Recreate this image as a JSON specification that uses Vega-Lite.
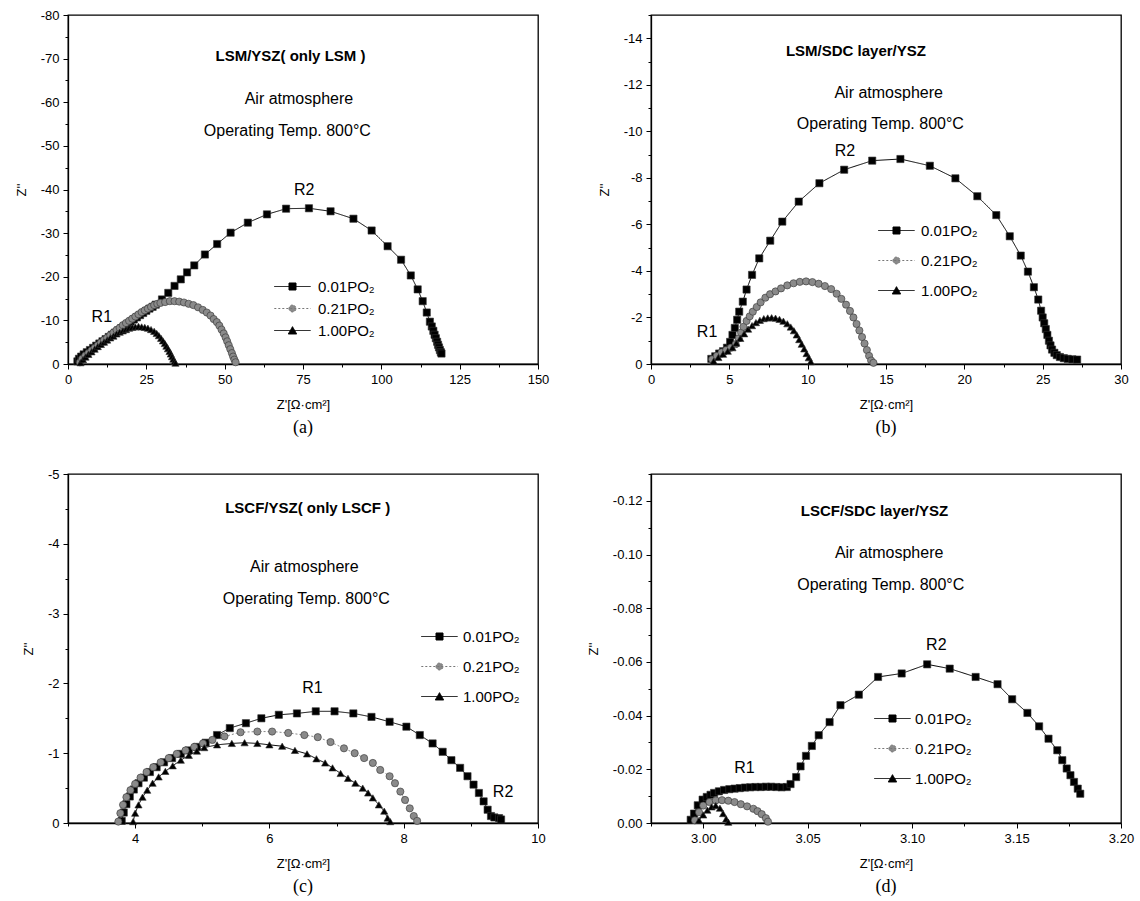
{
"$schema": "https://vega.github.io/schema/vega-lite/v6.json",
"background": "white",
"padding": {"left": 14, "top": 8, "right": 5, "bottom": 0},
"columns": 2,
"spacing": {"row": 110, "column": 113},
"bounds": "flush",
"config": {
 "font": "Liberation Sans",
 "locale": {"number": {"decimal": ".", "thousands": ",", "grouping": [3], "currency": ["$", ""], "minus": "-"}},
 "view": {"stroke": "black", "strokeWidth": 1.3},
 "axis": {"domainColor": "black", "domainWidth": 1.3, "tickColor": "black", "tickWidth": 1, "labelColor": "black", "titleColor": "black", "labelFont": "Liberation Sans", "titleFont": "Liberation Sans", "labelFontSize": 13, "titleFontSize": 13, "titleFontWeight": "normal", "grid": false, "labelFlush": false, "labelOverlap": false, "labelPadding": 4, "titlePadding": 12},
 "legend": {"labelFont": "Liberation Sans", "labelFontSize": 15, "labelColor": "black", "padding": 0, "symbolSize": 196, "symbolStrokeWidth": 1, "symbolOpacity": 1},
 "title": {"font": "Liberation Serif", "fontSize": 18, "fontWeight": "normal", "color": "black"},
 "text": {"font": "Liberation Sans", "color": "black"}
},
"datasets": {
 "a": [
  {"s":"0.01","x":3.0,"y":-0.6},{"s":"0.01","x":3.5,"y":-1.2},{"s":"0.01","x":4.2,"y":-1.7},{"s":"0.01","x":5,"y":-2.2},{"s":"0.01","x":6,"y":-2.7},{"s":"0.01","x":7,"y":-3.2},{"s":"0.01","x":8,"y":-3.7},{"s":"0.01","x":9,"y":-4.2},{"s":"0.01","x":10,"y":-4.7},{"s":"0.01","x":11,"y":-5.2},{"s":"0.01","x":12,"y":-5.7},{"s":"0.01","x":13,"y":-6.2},{"s":"0.01","x":14,"y":-6.7},{"s":"0.01","x":15,"y":-7.2},{"s":"0.01","x":16,"y":-7.7},{"s":"0.01","x":17,"y":-8.2},{"s":"0.01","x":18,"y":-8.7},{"s":"0.01","x":19,"y":-9.2},{"s":"0.01","x":20,"y":-9.7},{"s":"0.01","x":21,"y":-10.2},{"s":"0.01","x":22,"y":-10.7},{"s":"0.01","x":23,"y":-11.2},{"s":"0.01","x":24,"y":-11.7},{"s":"0.01","x":25,"y":-12.2},{"s":"0.01","x":26,"y":-12.7},{"s":"0.01","x":27,"y":-13.1},{"s":"0.01","x":28,"y":-13.6},{"s":"0.01","x":30,"y":-14.8},{"s":"0.01","x":32,"y":-16.3},{"s":"0.01","x":34,"y":-17.9},{"s":"0.01","x":36,"y":-19.4},{"s":"0.01","x":38,"y":-21},{"s":"0.01","x":40.3,"y":-22.6},{"s":"0.01","x":43.7,"y":-25.1},{"s":"0.01","x":47.6,"y":-27.5},{"s":"0.01","x":51.9,"y":-30.1},{"s":"0.01","x":57.4,"y":-32.4},{"s":"0.01","x":63.5,"y":-34.3},{"s":"0.01","x":69.6,"y":-35.6},{"s":"0.01","x":76.9,"y":-35.7},{"s":"0.01","x":83.8,"y":-35},{"s":"0.01","x":91.1,"y":-33.3},{"s":"0.01","x":96.9,"y":-30.6},{"s":"0.01","x":102,"y":-27},{"s":"0.01","x":106.3,"y":-23.9},{"s":"0.01","x":109.4,"y":-20.3},{"s":"0.01","x":111.6,"y":-17.1},{"s":"0.01","x":113.2,"y":-14.4},{"s":"0.01","x":114.5,"y":-11.8},{"s":"0.01","x":115.5,"y":-9.7},{"s":"0.01","x":116.1,"y":-8.6},{"s":"0.01","x":116.6,"y":-7.6},{"s":"0.01","x":117,"y":-6.7},{"s":"0.01","x":117.4,"y":-5.9},{"s":"0.01","x":117.8,"y":-5.1},{"s":"0.01","x":118.1,"y":-4.4},{"s":"0.01","x":118.4,"y":-3.8},{"s":"0.01","x":118.7,"y":-3.2},{"s":"0.01","x":119,"y":-2.7},{"s":"0.01","x":119.2,"y":-2.4},
  {"s":"0.21","x":3.8,"y":-0.4},{"s":"0.21","x":4.5,"y":-1.2},{"s":"0.21","x":5.5,"y":-1.9},{"s":"0.21","x":6.5,"y":-2.5},{"s":"0.21","x":7.5,"y":-3.1},{"s":"0.21","x":8.5,"y":-3.7},{"s":"0.21","x":9.5,"y":-4.3},{"s":"0.21","x":10.5,"y":-4.9},{"s":"0.21","x":11.5,"y":-5.5},{"s":"0.21","x":12.5,"y":-6.0},{"s":"0.21","x":13.5,"y":-6.6},{"s":"0.21","x":14.5,"y":-7.2},{"s":"0.21","x":15.5,"y":-7.8},{"s":"0.21","x":16.5,"y":-8.3},{"s":"0.21","x":17.5,"y":-8.9},{"s":"0.21","x":18.5,"y":-9.4},{"s":"0.21","x":19.5,"y":-9.9},{"s":"0.21","x":20.5,"y":-10.4},{"s":"0.21","x":21.5,"y":-10.9},{"s":"0.21","x":22.5,"y":-11.4},{"s":"0.21","x":23.5,"y":-11.9},{"s":"0.21","x":24.5,"y":-12.3},{"s":"0.21","x":25.5,"y":-12.7},{"s":"0.21","x":26.5,"y":-13.1},{"s":"0.21","x":27.5,"y":-13.5},{"s":"0.21","x":28.5,"y":-13.8},{"s":"0.21","x":29.5,"y":-14.0},{"s":"0.21","x":31,"y":-14.2},{"s":"0.21","x":32.5,"y":-14.4},{"s":"0.21","x":34,"y":-14.4},{"s":"0.21","x":35.5,"y":-14.3},{"s":"0.21","x":37,"y":-14.1},{"s":"0.21","x":38.5,"y":-13.8},{"s":"0.21","x":40,"y":-13.5},{"s":"0.21","x":41.5,"y":-13.0},{"s":"0.21","x":43,"y":-12.4},{"s":"0.21","x":44.3,"y":-11.8},{"s":"0.21","x":45.5,"y":-11.1},{"s":"0.21","x":46.5,"y":-10.3},{"s":"0.21","x":47.5,"y":-9.6},{"s":"0.21","x":48.3,"y":-8.8},{"s":"0.21","x":49,"y":-7.9},{"s":"0.21","x":49.7,"y":-7.0},{"s":"0.21","x":50.3,"y":-6.1},{"s":"0.21","x":50.8,"y":-5.2},{"s":"0.21","x":51.3,"y":-4.3},{"s":"0.21","x":51.8,"y":-3.4},{"s":"0.21","x":52.3,"y":-2.5},{"s":"0.21","x":52.7,"y":-1.7},{"s":"0.21","x":53.1,"y":-1.0},{"s":"0.21","x":53.5,"y":-0.4},
  {"s":"1.00","x":4,"y":-0.3},{"s":"1.00","x":4.8,"y":-1.0},{"s":"1.00","x":5.6,"y":-1.6},{"s":"1.00","x":6.5,"y":-2.2},{"s":"1.00","x":7.5,"y":-2.8},{"s":"1.00","x":8.5,"y":-3.4},{"s":"1.00","x":9.5,"y":-4.0},{"s":"1.00","x":10.5,"y":-4.5},{"s":"1.00","x":11.5,"y":-5.0},{"s":"1.00","x":12.5,"y":-5.5},{"s":"1.00","x":13.5,"y":-6.0},{"s":"1.00","x":14.5,"y":-6.4},{"s":"1.00","x":15.5,"y":-6.9},{"s":"1.00","x":16.5,"y":-7.3},{"s":"1.00","x":17.5,"y":-7.6},{"s":"1.00","x":18.5,"y":-7.9},{"s":"1.00","x":19.5,"y":-8.2},{"s":"1.00","x":20.5,"y":-8.4},{"s":"1.00","x":21.5,"y":-8.5},{"s":"1.00","x":22.5,"y":-8.6},{"s":"1.00","x":23.5,"y":-8.5},{"s":"1.00","x":24.5,"y":-8.4},{"s":"1.00","x":25.5,"y":-8.2},{"s":"1.00","x":26.5,"y":-7.9},{"s":"1.00","x":27.5,"y":-7.5},{"s":"1.00","x":28.3,"y":-7.0},{"s":"1.00","x":29,"y":-6.5},{"s":"1.00","x":29.7,"y":-5.9},{"s":"1.00","x":30.3,"y":-5.3},{"s":"1.00","x":30.9,"y":-4.7},{"s":"1.00","x":31.4,"y":-4.1},{"s":"1.00","x":31.9,"y":-3.5},{"s":"1.00","x":32.4,"y":-2.9},{"s":"1.00","x":32.8,"y":-2.3},{"s":"1.00","x":33.2,"y":-1.7},{"s":"1.00","x":33.6,"y":-1.1},{"s":"1.00","x":34,"y":-0.6},{"s":"1.00","x":34.3,"y":-0.2}
 ],
 "b": [
  {"s":"0.01","x":3.85,"y":-0.22},{"s":"0.01","x":4.1,"y":-0.33},{"s":"0.01","x":4.35,"y":-0.45},{"s":"0.01","x":4.6,"y":-0.55},{"s":"0.01","x":4.85,"y":-0.7},{"s":"0.01","x":5.05,"y":-0.95},{"s":"0.01","x":5.2,"y":-1.25},{"s":"0.01","x":5.35,"y":-1.55},{"s":"0.01","x":5.5,"y":-1.9},{"s":"0.01","x":5.63,"y":-2.25},{"s":"0.01","x":5.86,"y":-2.68},{"s":"0.01","x":6.1,"y":-3.2},{"s":"0.01","x":6.45,"y":-3.83},{"s":"0.01","x":6.91,"y":-4.54},{"s":"0.01","x":7.61,"y":-5.3},{"s":"0.01","x":8.38,"y":-6.12},{"s":"0.01","x":9.43,"y":-6.98},{"s":"0.01","x":10.75,"y":-7.77},{"s":"0.01","x":12.33,"y":-8.35},{"s":"0.01","x":14.12,"y":-8.74},{"s":"0.01","x":15.92,"y":-8.81},{"s":"0.01","x":17.8,"y":-8.52},{"s":"0.01","x":19.43,"y":-7.98},{"s":"0.01","x":20.83,"y":-7.21},{"s":"0.01","x":22.04,"y":-6.4},{"s":"0.01","x":22.9,"y":-5.49},{"s":"0.01","x":23.6,"y":-4.66},{"s":"0.01","x":24.06,"y":-3.97},{"s":"0.01","x":24.44,"y":-3.3},{"s":"0.01","x":24.72,"y":-2.77},{"s":"0.01","x":24.9,"y":-2.29},{"s":"0.01","x":25.0,"y":-2.0},{"s":"0.01","x":25.1,"y":-1.75},{"s":"0.01","x":25.2,"y":-1.5},{"s":"0.01","x":25.3,"y":-1.25},{"s":"0.01","x":25.4,"y":-1.0},{"s":"0.01","x":25.5,"y":-0.8},{"s":"0.01","x":25.6,"y":-0.62},{"s":"0.01","x":25.75,"y":-0.48},{"s":"0.01","x":25.9,"y":-0.38},{"s":"0.01","x":26.1,"y":-0.3},{"s":"0.01","x":26.35,"y":-0.25},{"s":"0.01","x":26.6,"y":-0.22},{"s":"0.01","x":26.9,"y":-0.2},{"s":"0.01","x":27.2,"y":-0.19},
  {"s":"0.21","x":3.9,"y":-0.2},{"s":"0.21","x":4.2,"y":-0.35},{"s":"0.21","x":4.5,"y":-0.5},{"s":"0.21","x":4.8,"y":-0.6},{"s":"0.21","x":5.1,"y":-0.7},{"s":"0.21","x":5.4,"y":-0.85},{"s":"0.21","x":5.6,"y":-1.1},{"s":"0.21","x":5.75,"y":-1.35},{"s":"0.21","x":5.9,"y":-1.6},{"s":"0.21","x":6.1,"y":-1.85},{"s":"0.21","x":6.3,"y":-2.05},{"s":"0.21","x":6.5,"y":-2.25},{"s":"0.21","x":6.75,"y":-2.45},{"s":"0.21","x":7.0,"y":-2.65},{"s":"0.21","x":7.3,"y":-2.85},{"s":"0.21","x":7.6,"y":-3.0},{"s":"0.21","x":7.95,"y":-3.12},{"s":"0.21","x":8.3,"y":-3.25},{"s":"0.21","x":8.7,"y":-3.38},{"s":"0.21","x":9.1,"y":-3.47},{"s":"0.21","x":9.5,"y":-3.53},{"s":"0.21","x":9.9,"y":-3.55},{"s":"0.21","x":10.3,"y":-3.52},{"s":"0.21","x":10.7,"y":-3.45},{"s":"0.21","x":11.1,"y":-3.35},{"s":"0.21","x":11.5,"y":-3.22},{"s":"0.21","x":11.85,"y":-3.02},{"s":"0.21","x":12.15,"y":-2.8},{"s":"0.21","x":12.45,"y":-2.55},{"s":"0.21","x":12.7,"y":-2.28},{"s":"0.21","x":12.92,"y":-2.0},{"s":"0.21","x":13.12,"y":-1.72},{"s":"0.21","x":13.3,"y":-1.44},{"s":"0.21","x":13.47,"y":-1.16},{"s":"0.21","x":13.63,"y":-0.88},{"s":"0.21","x":13.78,"y":-0.6},{"s":"0.21","x":13.92,"y":-0.35},{"s":"0.21","x":14.05,"y":-0.15},{"s":"0.21","x":14.2,"y":-0.05},
  {"s":"1.00","x":4.0,"y":-0.12},{"s":"1.00","x":4.3,"y":-0.28},{"s":"1.00","x":4.6,"y":-0.42},{"s":"1.00","x":4.9,"y":-0.55},{"s":"1.00","x":5.2,"y":-0.7},{"s":"1.00","x":5.45,"y":-0.9},{"s":"1.00","x":5.7,"y":-1.1},{"s":"1.00","x":5.95,"y":-1.3},{"s":"1.00","x":6.2,"y":-1.5},{"s":"1.00","x":6.45,"y":-1.65},{"s":"1.00","x":6.7,"y":-1.78},{"s":"1.00","x":6.95,"y":-1.88},{"s":"1.00","x":7.2,"y":-1.95},{"s":"1.00","x":7.45,"y":-1.98},{"s":"1.00","x":7.7,"y":-1.99},{"s":"1.00","x":7.95,"y":-1.97},{"s":"1.00","x":8.2,"y":-1.92},{"s":"1.00","x":8.45,"y":-1.84},{"s":"1.00","x":8.7,"y":-1.73},{"s":"1.00","x":8.92,"y":-1.59},{"s":"1.00","x":9.12,"y":-1.43},{"s":"1.00","x":9.3,"y":-1.25},{"s":"1.00","x":9.46,"y":-1.05},{"s":"1.00","x":9.62,"y":-0.85},{"s":"1.00","x":9.78,"y":-0.65},{"s":"1.00","x":9.93,"y":-0.45},{"s":"1.00","x":10.07,"y":-0.27},{"s":"1.00","x":10.2,"y":-0.1}
 ],
 "c": [
  {"s":"0.01","x":3.8,"y":-0.03},{"s":"0.01","x":3.83,"y":-0.15},{"s":"0.01","x":3.87,"y":-0.27},{"s":"0.01","x":3.92,"y":-0.38},{"s":"0.01","x":3.98,"y":-0.48},{"s":"0.01","x":4.05,"y":-0.57},{"s":"0.01","x":4.13,"y":-0.65},{"s":"0.01","x":4.22,"y":-0.73},{"s":"0.01","x":4.32,"y":-0.8},{"s":"0.01","x":4.43,"y":-0.87},{"s":"0.01","x":4.55,"y":-0.93},{"s":"0.01","x":4.68,"y":-0.99},{"s":"0.01","x":4.8,"y":-1.04},{"s":"0.01","x":4.92,"y":-1.09},{"s":"0.01","x":5.05,"y":-1.15},{"s":"0.01","x":5.22,"y":-1.26},{"s":"0.01","x":5.41,"y":-1.36},{"s":"0.01","x":5.65,"y":-1.43},{"s":"0.01","x":5.88,"y":-1.5},{"s":"0.01","x":6.14,"y":-1.55},{"s":"0.01","x":6.41,"y":-1.57},{"s":"0.01","x":6.69,"y":-1.6},{"s":"0.01","x":6.97,"y":-1.6},{"s":"0.01","x":7.25,"y":-1.57},{"s":"0.01","x":7.52,"y":-1.52},{"s":"0.01","x":7.79,"y":-1.45},{"s":"0.01","x":8.04,"y":-1.38},{"s":"0.01","x":8.24,"y":-1.26},{"s":"0.01","x":8.43,"y":-1.14},{"s":"0.01","x":8.58,"y":-1.02},{"s":"0.01","x":8.71,"y":-0.9},{"s":"0.01","x":8.84,"y":-0.79},{"s":"0.01","x":8.95,"y":-0.67},{"s":"0.01","x":9.04,"y":-0.55},{"s":"0.01","x":9.12,"y":-0.43},{"s":"0.01","x":9.19,"y":-0.31},{"s":"0.01","x":9.25,"y":-0.19},{"s":"0.01","x":9.3,"y":-0.1},{"s":"0.01","x":9.35,"y":-0.08},{"s":"0.01","x":9.42,"y":-0.07},{"s":"0.01","x":9.45,"y":-0.05},
  {"s":"0.21","x":3.75,"y":-0.02},{"s":"0.21","x":3.78,"y":-0.14},{"s":"0.21","x":3.82,"y":-0.26},{"s":"0.21","x":3.87,"y":-0.37},{"s":"0.21","x":3.93,"y":-0.47},{"s":"0.21","x":4.0,"y":-0.56},{"s":"0.21","x":4.08,"y":-0.65},{"s":"0.21","x":4.17,"y":-0.73},{"s":"0.21","x":4.27,"y":-0.8},{"s":"0.21","x":4.38,"y":-0.87},{"s":"0.21","x":4.5,"y":-0.93},{"s":"0.21","x":4.62,"y":-0.99},{"s":"0.21","x":4.75,"y":-1.04},{"s":"0.21","x":4.88,"y":-1.09},{"s":"0.21","x":5.01,"y":-1.14},{"s":"0.21","x":5.15,"y":-1.19},{"s":"0.21","x":5.33,"y":-1.24},{"s":"0.21","x":5.57,"y":-1.3},{"s":"0.21","x":5.82,"y":-1.31},{"s":"0.21","x":6.04,"y":-1.31},{"s":"0.21","x":6.28,"y":-1.29},{"s":"0.21","x":6.52,"y":-1.26},{"s":"0.21","x":6.72,"y":-1.23},{"s":"0.21","x":6.91,"y":-1.16},{"s":"0.21","x":7.11,"y":-1.07},{"s":"0.21","x":7.27,"y":-1.0},{"s":"0.21","x":7.41,"y":-0.93},{"s":"0.21","x":7.54,"y":-0.86},{"s":"0.21","x":7.65,"y":-0.76},{"s":"0.21","x":7.79,"y":-0.67},{"s":"0.21","x":7.87,"y":-0.57},{"s":"0.21","x":7.95,"y":-0.45},{"s":"0.21","x":8.02,"y":-0.33},{"s":"0.21","x":8.09,"y":-0.21},{"s":"0.21","x":8.15,"y":-0.1},{"s":"0.21","x":8.2,"y":-0.03},
  {"s":"1.00","x":3.97,"y":-0.02},{"s":"1.00","x":4.0,"y":-0.14},{"s":"1.00","x":4.05,"y":-0.26},{"s":"1.00","x":4.11,"y":-0.37},{"s":"1.00","x":4.18,"y":-0.47},{"s":"1.00","x":4.26,"y":-0.57},{"s":"1.00","x":4.35,"y":-0.66},{"s":"1.00","x":4.45,"y":-0.74},{"s":"1.00","x":4.56,"y":-0.82},{"s":"1.00","x":4.68,"y":-0.9},{"s":"1.00","x":4.8,"y":-0.97},{"s":"1.00","x":4.92,"y":-1.03},{"s":"1.00","x":5.03,"y":-1.08},{"s":"1.00","x":5.22,"y":-1.12},{"s":"1.00","x":5.44,"y":-1.14},{"s":"1.00","x":5.63,"y":-1.15},{"s":"1.00","x":5.82,"y":-1.14},{"s":"1.00","x":6.0,"y":-1.12},{"s":"1.00","x":6.19,"y":-1.1},{"s":"1.00","x":6.38,"y":-1.04},{"s":"1.00","x":6.56,"y":-0.99},{"s":"1.00","x":6.7,"y":-0.92},{"s":"1.00","x":6.83,"y":-0.86},{"s":"1.00","x":6.94,"y":-0.79},{"s":"1.00","x":7.06,"y":-0.71},{"s":"1.00","x":7.17,"y":-0.64},{"s":"1.00","x":7.28,"y":-0.57},{"s":"1.00","x":7.39,"y":-0.5},{"s":"1.00","x":7.47,"y":-0.43},{"s":"1.00","x":7.54,"y":-0.36},{"s":"1.00","x":7.63,"y":-0.26},{"s":"1.00","x":7.71,"y":-0.17},{"s":"1.00","x":7.76,"y":-0.07},{"s":"1.00","x":7.8,"y":-0.02}
 ],
 "d": [
  {"s":"0.01","x":2.994,"y":-0.0012},{"s":"0.01","x":2.9956,"y":-0.0035},{"s":"0.01","x":2.9974,"y":-0.0066},{"s":"0.01","x":2.9997,"y":-0.0087},{"s":"0.01","x":3.0017,"y":-0.0097},{"s":"0.01","x":3.0035,"y":-0.0105},{"s":"0.01","x":3.0052,"y":-0.0112},{"s":"0.01","x":3.0075,"y":-0.0118},{"s":"0.01","x":3.01,"y":-0.0123},{"s":"0.01","x":3.0125,"y":-0.0126},{"s":"0.01","x":3.015,"y":-0.0128},{"s":"0.01","x":3.0175,"y":-0.013},{"s":"0.01","x":3.02,"y":-0.0132},{"s":"0.01","x":3.0225,"y":-0.0133},{"s":"0.01","x":3.025,"y":-0.0134},{"s":"0.01","x":3.0275,"y":-0.0134},{"s":"0.01","x":3.03,"y":-0.0135},{"s":"0.01","x":3.0325,"y":-0.0135},{"s":"0.01","x":3.035,"y":-0.0134},{"s":"0.01","x":3.0375,"y":-0.0133},{"s":"0.01","x":3.04,"y":-0.0134},{"s":"0.01","x":3.0418,"y":-0.0145},{"s":"0.01","x":3.0445,"y":-0.0171},{"s":"0.01","x":3.0466,"y":-0.0211},{"s":"0.01","x":3.0492,"y":-0.025},{"s":"0.01","x":3.052,"y":-0.0287},{"s":"0.01","x":3.0553,"y":-0.0327},{"s":"0.01","x":3.0605,"y":-0.0376},{"s":"0.01","x":3.0657,"y":-0.0439},{"s":"0.01","x":3.0745,"y":-0.0478},{"s":"0.01","x":3.0837,"y":-0.0544},{"s":"0.01","x":3.095,"y":-0.0557},{"s":"0.01","x":3.1072,"y":-0.0591},{"s":"0.01","x":3.118,"y":-0.0575},{"s":"0.01","x":3.1304,"y":-0.0544},{"s":"0.01","x":3.1409,"y":-0.0517},{"s":"0.01","x":3.1479,"y":-0.0461},{"s":"0.01","x":3.1552,"y":-0.041},{"s":"0.01","x":3.1608,"y":-0.036},{"s":"0.01","x":3.1653,"y":-0.0314},{"s":"0.01","x":3.1695,"y":-0.0271},{"s":"0.01","x":3.1719,"y":-0.0234},{"s":"0.01","x":3.174,"y":-0.0203},{"s":"0.01","x":3.1758,"y":-0.0178},{"s":"0.01","x":3.1775,"y":-0.0153},{"s":"0.01","x":3.1793,"y":-0.0128},{"s":"0.01","x":3.1805,"y":-0.0109},
  {"s":"0.21","x":2.996,"y":-0.001},{"s":"0.21","x":2.998,"y":-0.004},{"s":"0.21","x":3.0,"y":-0.0065},{"s":"0.21","x":3.003,"y":-0.0078},{"s":"0.21","x":3.006,"y":-0.0084},{"s":"0.21","x":3.009,"y":-0.0085},{"s":"0.21","x":3.012,"y":-0.0083},{"s":"0.21","x":3.015,"y":-0.0078},{"s":"0.21","x":3.018,"y":-0.007},{"s":"0.21","x":3.021,"y":-0.0062},{"s":"0.21","x":3.024,"y":-0.0053},{"s":"0.21","x":3.026,"y":-0.0044},{"s":"0.21","x":3.028,"y":-0.0033},{"s":"0.21","x":3.03,"y":-0.0018},{"s":"0.21","x":3.031,"y":-0.0005},
  {"s":"1.00","x":2.998,"y":-0.001},{"s":"1.00","x":3.0,"y":-0.003},{"s":"1.00","x":3.002,"y":-0.0048},{"s":"1.00","x":3.004,"y":-0.006},{"s":"1.00","x":3.006,"y":-0.0065},{"s":"1.00","x":3.008,"y":-0.0055},{"s":"1.00","x":3.0095,"y":-0.0035},{"s":"1.00","x":3.011,"y":-0.0015},{"s":"1.00","x":3.012,"y":-0.0003}
 ],
 "notes": [
  {"p":"a","k":"t","x":71,"y":-70.5,"t":"LSM/YSZ( only LSM )"},
  {"p":"a","k":"n","x":73.7,"y":-60.7,"t":"Air atmosphere"},
  {"p":"a","k":"n","x":70,"y":-53.3,"t":"Operating Temp. 800°C"},
  {"p":"a","k":"n","x":75.4,"y":-39.8,"t":"R2"},
  {"p":"a","k":"n","x":10.8,"y":-10.7,"t":"R1"},
  {"p":"b","k":"t","x":13.08,"y":-13.47,"t":"LSM/SDC layer/YSZ"},
  {"p":"b","k":"n","x":15.17,"y":-11.65,"t":"Air atmosphere"},
  {"p":"b","k":"n","x":14.64,"y":-10.3,"t":"Operating Temp. 800°C"},
  {"p":"b","k":"n","x":12.38,"y":-9.14,"t":"R2"},
  {"p":"b","k":"n","x":3.58,"y":-1.36,"t":"R1"},
  {"p":"c","k":"t","x":6.57,"y":-4.51,"t":"LSCF/YSZ( only LSCF )"},
  {"p":"c","k":"n","x":6.52,"y":-3.67,"t":"Air atmosphere"},
  {"p":"c","k":"n","x":6.55,"y":-3.21,"t":"Operating Temp. 800°C"},
  {"p":"c","k":"n","x":6.64,"y":-1.94,"t":"R1"},
  {"p":"c","k":"n","x":9.48,"y":-0.45,"t":"R2"},
  {"p":"d","k":"t","x":3.082,"y":-0.1163,"t":"LSCF/SDC layer/YSZ"},
  {"p":"d","k":"n","x":3.089,"y":-0.1004,"t":"Air atmosphere"},
  {"p":"d","k":"n","x":3.085,"y":-0.0888,"t":"Operating Temp. 800°C"},
  {"p":"d","k":"n","x":3.1116,"y":-0.0662,"t":"R2"},
  {"p":"d","k":"n","x":3.0197,"y":-0.0205,"t":"R1"}
 ]
},
"concat": [
  {"width": 470, "height": 349,
   "title": {"text": "(a)", "orient": "bottom", "offset": 8},
   "encoding": {
    "x": {"field": "x", "type": "quantitative", "scale": {"domain": [0, 150], "nice": false, "zero": false},
      "axis": {"title": "Z'[Ω·cm²]", "values": [0,12.5,25,37.5,50,62.5,75,87.5,100,112.5,125,137.5,150], "labelExpr": "datum.value % 25 == 0 ? datum.label : ''", "tickSize": {"condition": {"test": "datum.value % 25 != 0", "value": 3}, "value": 5}}},
    "y": {"field": "y", "type": "quantitative", "scale": {"domain": [-80, 0], "reverse": true, "nice": false, "zero": false},
      "axis": {"title": "Z''", "values": [0,-5,-10,-15,-20,-25,-30,-35,-40,-45,-50,-55,-60,-65,-70,-75,-80], "labelExpr": "datum.value % 10 == 0 ? datum.label : ''", "tickSize": {"condition": {"test": "datum.value % 10 != 0", "value": 3}, "value": 5}}}
   },
   "layer": [
    {"data": {"name": "a"}, "mark": {"type": "line", "strokeWidth": 1},
     "encoding": {"color": {"field": "s", "type": "nominal", "scale": {"domain": ["0.01","0.21","1.00"], "range": ["#000000","#8a8a8a","#000000"]}, "legend": null},
                  "strokeDash": {"field": "s", "type": "nominal", "scale": {"domain": ["0.01","0.21","1.00"], "range": [[1,0],[2,2],[1,0]]}, "legend": null}}},
    {"data": {"name": "a"}, "mark": {"type": "point", "filled": true, "opacity": 1, "size": 52, "stroke": "#333333", "strokeWidth": 0.6},
     "encoding": {"color": {"field": "s", "type": "nominal", "scale": {"domain": ["0.01","0.21","1.00"], "range": ["#000000","#8a8a8a","#000000"]}, "legend": null},
                  "shape": {"field": "s", "type": "nominal", "scale": {"domain": ["0.01","0.21","1.00"], "range": ["square","circle","triangle-up"]}, "legend": null}}},
    {"data": {"name": "a"}, "mark": {"type": "point", "filled": true, "opacity": 0},
     "encoding": {
      "shape": {"field": "s", "type": "nominal", "scale": {"domain": ["0.01","0.21","1.00"], "range": ["M-2.6,0H2.6M-0.5,-0.5H0.5V0.5H-0.5Z","M-2.6,0H2.6M-0.5,0A0.5,0.5,0,1,0,0.5,0A0.5,0.5,0,1,0,-0.5,0Z","M-2.6,0H2.6M0,-0.55L0.6,0.5H-0.6Z"]},
        "legend": {"title": null, "orient": "none", "legendX": 217, "legendY": 264, "direction": "vertical", "labelOffset": 18, "rowPadding": 6, "labelExpr": "datum.label + 'PO₂'",
          "encoding": {"symbols": {"stroke": {"condition": {"test": "datum.value == '0.21'", "value": "#777777"}, "value": "#000000"}, "strokeDash": {"condition": {"test": "datum.value == '0.21'", "value": [2,2]}, "value": [1,0]}, "strokeWidth": {"value": 1}}}}},
      "color": {"field": "s", "type": "nominal", "scale": {"domain": ["0.01","0.21","1.00"], "range": ["#000000","#8a8a8a","#000000"]},
        "legend": {"title": null, "orient": "none", "legendX": 217, "legendY": 264, "direction": "vertical", "labelOffset": 18, "rowPadding": 6, "labelExpr": "datum.label + 'PO₂'",
          "encoding": {"symbols": {"stroke": {"condition": {"test": "datum.value == '0.21'", "value": "#777777"}, "value": "#000000"}, "strokeDash": {"condition": {"test": "datum.value == '0.21'", "value": [2,2]}, "value": [1,0]}, "strokeWidth": {"value": 1}}}}}
     }},
    {"data": {"name": "notes"}, "transform": [{"filter": "datum.p == 'a' && datum.k == 't'"}], "mark": {"type": "text", "fontSize": 15, "fontWeight": "bold"}, "encoding": {"text": {"field": "t"}}},
    {"data": {"name": "notes"}, "transform": [{"filter": "datum.p == 'a' && datum.k == 'n'"}], "mark": {"type": "text", "fontSize": 16}, "encoding": {"text": {"field": "t"}}}
   ],
   "resolve": {"scale": {"shape": "independent", "strokeDash": "independent", "color": "independent"}}
  },
  {"width": 470, "height": 349,
   "title": {"text": "(b)", "orient": "bottom", "offset": 8},
   "encoding": {
    "x": {"field": "x", "type": "quantitative", "scale": {"domain": [0, 30], "nice": false, "zero": false},
      "axis": {"title": "Z'[Ω·cm²]", "values": [0,2.5,5,7.5,10,12.5,15,17.5,20,22.5,25,27.5,30], "labelExpr": "datum.value % 5 == 0 ? datum.label : ''", "tickSize": {"condition": {"test": "datum.value % 5 != 0", "value": 3}, "value": 5}}},
    "y": {"field": "y", "type": "quantitative", "scale": {"domain": [-15, 0], "reverse": true, "nice": false, "zero": false},
      "axis": {"title": "Z''", "values": [0,-1,-2,-3,-4,-5,-6,-7,-8,-9,-10,-11,-12,-13,-14,-15], "labelExpr": "datum.value % 2 == 0 ? datum.label : ''", "tickSize": {"condition": {"test": "datum.value % 2 != 0", "value": 3}, "value": 5}}}
   },
   "layer": [
    {"data": {"name": "b"}, "mark": {"type": "line", "strokeWidth": 1},
     "encoding": {"color": {"field": "s", "type": "nominal", "scale": {"domain": ["0.01","0.21","1.00"], "range": ["#000000","#8a8a8a","#000000"]}, "legend": null},
                  "strokeDash": {"field": "s", "type": "nominal", "scale": {"domain": ["0.01","0.21","1.00"], "range": [[1,0],[2,2],[1,0]]}, "legend": null}}},
    {"data": {"name": "b"}, "mark": {"type": "point", "filled": true, "opacity": 1, "size": 52, "stroke": "#333333", "strokeWidth": 0.6},
     "encoding": {"color": {"field": "s", "type": "nominal", "scale": {"domain": ["0.01","0.21","1.00"], "range": ["#000000","#8a8a8a","#000000"]}, "legend": null},
                  "shape": {"field": "s", "type": "nominal", "scale": {"domain": ["0.01","0.21","1.00"], "range": ["square","circle","triangle-up"]}, "legend": null}}},
    {"data": {"name": "b"}, "mark": {"type": "point", "filled": true, "opacity": 0},
     "encoding": {
      "shape": {"field": "s", "type": "nominal", "scale": {"domain": ["0.01","0.21","1.00"], "range": ["M-2.6,0H2.6M-0.5,-0.5H0.5V0.5H-0.5Z","M-2.6,0H2.6M-0.5,0A0.5,0.5,0,1,0,0.5,0A0.5,0.5,0,1,0,-0.5,0Z","M-2.6,0H2.6M0,-0.55L0.6,0.5H-0.6Z"]},
        "legend": {"title": null, "orient": "none", "legendX": 238, "legendY": 208, "direction": "vertical", "labelOffset": 17, "rowPadding": 14, "labelExpr": "datum.label + 'PO₂'",
          "encoding": {"symbols": {"stroke": {"condition": {"test": "datum.value == '0.21'", "value": "#777777"}, "value": "#000000"}, "strokeDash": {"condition": {"test": "datum.value == '0.21'", "value": [2,2]}, "value": [1,0]}, "strokeWidth": {"value": 1}}}}},
      "color": {"field": "s", "type": "nominal", "scale": {"domain": ["0.01","0.21","1.00"], "range": ["#000000","#8a8a8a","#000000"]},
        "legend": {"title": null, "orient": "none", "legendX": 238, "legendY": 208, "direction": "vertical", "labelOffset": 17, "rowPadding": 14, "labelExpr": "datum.label + 'PO₂'",
          "encoding": {"symbols": {"stroke": {"condition": {"test": "datum.value == '0.21'", "value": "#777777"}, "value": "#000000"}, "strokeDash": {"condition": {"test": "datum.value == '0.21'", "value": [2,2]}, "value": [1,0]}, "strokeWidth": {"value": 1}}}}}
     }},
    {"data": {"name": "notes"}, "transform": [{"filter": "datum.p == 'b' && datum.k == 't'"}], "mark": {"type": "text", "fontSize": 15, "fontWeight": "bold"}, "encoding": {"text": {"field": "t"}}},
    {"data": {"name": "notes"}, "transform": [{"filter": "datum.p == 'b' && datum.k == 'n'"}], "mark": {"type": "text", "fontSize": 16}, "encoding": {"text": {"field": "t"}}}
   ],
   "resolve": {"scale": {"shape": "independent", "strokeDash": "independent", "color": "independent"}}
  },
  {"width": 470, "height": 349,
   "title": {"text": "(c)", "orient": "bottom", "offset": 8},
   "encoding": {
    "x": {"field": "x", "type": "quantitative", "scale": {"domain": [3, 10], "nice": false, "zero": false},
      "axis": {"title": "Z'[Ω·cm²]", "values": [3,4,5,6,7,8,9,10], "labelExpr": "datum.value % 2 == 0 ? datum.label : ''", "tickSize": {"condition": {"test": "datum.value % 2 != 0", "value": 3}, "value": 5}}},
    "y": {"field": "y", "type": "quantitative", "scale": {"domain": [-5, 0], "reverse": true, "nice": false, "zero": false},
      "axis": {"title": "Z''", "format": ".0f", "values": [0,-0.5,-1,-1.5,-2,-2.5,-3,-3.5,-4,-4.5,-5], "labelExpr": "datum.value % 1 == 0 ? datum.label : ''", "tickSize": {"condition": {"test": "datum.value % 1 != 0", "value": 3}, "value": 5}}}
   },
   "layer": [
    {"data": {"name": "c"}, "mark": {"type": "line", "strokeWidth": 1},
     "encoding": {"color": {"field": "s", "type": "nominal", "scale": {"domain": ["0.01","0.21","1.00"], "range": ["#000000","#8a8a8a","#000000"]}, "legend": null},
                  "strokeDash": {"field": "s", "type": "nominal", "scale": {"domain": ["0.01","0.21","1.00"], "range": [[1,0],[2,2],[1,0]]}, "legend": null}}},
    {"data": {"name": "c"}, "mark": {"type": "point", "filled": true, "opacity": 1, "size": 52, "stroke": "#333333", "strokeWidth": 0.6},
     "encoding": {"color": {"field": "s", "type": "nominal", "scale": {"domain": ["0.01","0.21","1.00"], "range": ["#000000","#8a8a8a","#000000"]}, "legend": null},
                  "shape": {"field": "s", "type": "nominal", "scale": {"domain": ["0.01","0.21","1.00"], "range": ["square","circle","triangle-up"]}, "legend": null}}},
    {"data": {"name": "c"}, "mark": {"type": "point", "filled": true, "opacity": 0},
     "encoding": {
      "shape": {"field": "s", "type": "nominal", "scale": {"domain": ["0.01","0.21","1.00"], "range": ["M-2.6,0H2.6M-0.5,-0.5H0.5V0.5H-0.5Z","M-2.6,0H2.6M-0.5,0A0.5,0.5,0,1,0,0.5,0A0.5,0.5,0,1,0,-0.5,0Z","M-2.6,0H2.6M0,-0.55L0.6,0.5H-0.6Z"]},
        "legend": {"title": null, "orient": "none", "legendX": 364, "legendY": 155, "direction": "vertical", "labelOffset": 16, "rowPadding": 14, "labelExpr": "datum.label + 'PO₂'",
          "encoding": {"symbols": {"stroke": {"condition": {"test": "datum.value == '0.21'", "value": "#777777"}, "value": "#000000"}, "strokeDash": {"condition": {"test": "datum.value == '0.21'", "value": [2,2]}, "value": [1,0]}, "strokeWidth": {"value": 1}}}}},
      "color": {"field": "s", "type": "nominal", "scale": {"domain": ["0.01","0.21","1.00"], "range": ["#000000","#8a8a8a","#000000"]},
        "legend": {"title": null, "orient": "none", "legendX": 364, "legendY": 155, "direction": "vertical", "labelOffset": 16, "rowPadding": 14, "labelExpr": "datum.label + 'PO₂'",
          "encoding": {"symbols": {"stroke": {"condition": {"test": "datum.value == '0.21'", "value": "#777777"}, "value": "#000000"}, "strokeDash": {"condition": {"test": "datum.value == '0.21'", "value": [2,2]}, "value": [1,0]}, "strokeWidth": {"value": 1}}}}}
     }},
    {"data": {"name": "notes"}, "transform": [{"filter": "datum.p == 'c' && datum.k == 't'"}], "mark": {"type": "text", "fontSize": 15, "fontWeight": "bold"}, "encoding": {"text": {"field": "t"}}},
    {"data": {"name": "notes"}, "transform": [{"filter": "datum.p == 'c' && datum.k == 'n'"}], "mark": {"type": "text", "fontSize": 16}, "encoding": {"text": {"field": "t"}}}
   ],
   "resolve": {"scale": {"shape": "independent", "strokeDash": "independent", "color": "independent"}}
  },
  {"width": 470, "height": 349,
   "title": {"text": "(d)", "orient": "bottom", "offset": 8},
   "encoding": {
    "x": {"field": "x", "type": "quantitative", "scale": {"domain": [2.975, 3.2], "nice": false, "zero": false},
      "axis": {"title": "Z'[Ω·cm²]", "format": ".2f", "values": [2.975,3.0,3.025,3.05,3.075,3.1,3.125,3.15,3.175,3.2], "labelExpr": "abs(datum.value*20 - round(datum.value*20)) < 0.001 ? datum.label : ''", "tickSize": {"condition": {"test": "abs(datum.value*20 - round(datum.value*20)) > 0.001", "value": 3}, "value": 5}}},
    "y": {"field": "y", "type": "quantitative", "scale": {"domain": [-0.13, 0], "reverse": true, "nice": false, "zero": false},
      "axis": {"title": "Z''", "format": ".2f", "values": [0,-0.01,-0.02,-0.03,-0.04,-0.05,-0.06,-0.07,-0.08,-0.09,-0.1,-0.11,-0.12,-0.13], "labelExpr": "abs(datum.value*50 - round(datum.value*50)) < 0.001 ? datum.label : ''", "tickSize": {"condition": {"test": "abs(datum.value*50 - round(datum.value*50)) > 0.001", "value": 3}, "value": 5}}}
   },
   "layer": [
    {"data": {"name": "d"}, "mark": {"type": "line", "strokeWidth": 1},
     "encoding": {"color": {"field": "s", "type": "nominal", "scale": {"domain": ["0.01","0.21","1.00"], "range": ["#000000","#8a8a8a","#000000"]}, "legend": null},
                  "strokeDash": {"field": "s", "type": "nominal", "scale": {"domain": ["0.01","0.21","1.00"], "range": [[1,0],[2,2],[1,0]]}, "legend": null}}},
    {"data": {"name": "d"}, "mark": {"type": "point", "filled": true, "opacity": 1, "size": 52, "stroke": "#333333", "strokeWidth": 0.6},
     "encoding": {"color": {"field": "s", "type": "nominal", "scale": {"domain": ["0.01","0.21","1.00"], "range": ["#000000","#8a8a8a","#000000"]}, "legend": null},
                  "shape": {"field": "s", "type": "nominal", "scale": {"domain": ["0.01","0.21","1.00"], "range": ["square","circle","triangle-up"]}, "legend": null}}},
    {"data": {"name": "d"}, "mark": {"type": "point", "filled": true, "opacity": 0},
     "encoding": {
      "shape": {"field": "s", "type": "nominal", "scale": {"domain": ["0.01","0.21","1.00"], "range": ["M-2.6,0H2.6M-0.5,-0.5H0.5V0.5H-0.5Z","M-2.6,0H2.6M-0.5,0A0.5,0.5,0,1,0,0.5,0A0.5,0.5,0,1,0,-0.5,0Z","M-2.6,0H2.6M0,-0.55L0.6,0.5H-0.6Z"]},
        "legend": {"title": null, "orient": "none", "legendX": 234, "legendY": 237, "direction": "vertical", "labelOffset": 15, "rowPadding": 14, "labelExpr": "datum.label + 'PO₂'",
          "encoding": {"symbols": {"stroke": {"condition": {"test": "datum.value == '0.21'", "value": "#777777"}, "value": "#000000"}, "strokeDash": {"condition": {"test": "datum.value == '0.21'", "value": [2,2]}, "value": [1,0]}, "strokeWidth": {"value": 1}}}}},
      "color": {"field": "s", "type": "nominal", "scale": {"domain": ["0.01","0.21","1.00"], "range": ["#000000","#8a8a8a","#000000"]},
        "legend": {"title": null, "orient": "none", "legendX": 234, "legendY": 237, "direction": "vertical", "labelOffset": 15, "rowPadding": 14, "labelExpr": "datum.label + 'PO₂'",
          "encoding": {"symbols": {"stroke": {"condition": {"test": "datum.value == '0.21'", "value": "#777777"}, "value": "#000000"}, "strokeDash": {"condition": {"test": "datum.value == '0.21'", "value": [2,2]}, "value": [1,0]}, "strokeWidth": {"value": 1}}}}}
     }},
    {"data": {"name": "notes"}, "transform": [{"filter": "datum.p == 'd' && datum.k == 't'"}], "mark": {"type": "text", "fontSize": 15, "fontWeight": "bold"}, "encoding": {"text": {"field": "t"}}},
    {"data": {"name": "notes"}, "transform": [{"filter": "datum.p == 'd' && datum.k == 'n'"}], "mark": {"type": "text", "fontSize": 16}, "encoding": {"text": {"field": "t"}}}
   ],
   "resolve": {"scale": {"shape": "independent", "strokeDash": "independent", "color": "independent"}}
  }
]
}
